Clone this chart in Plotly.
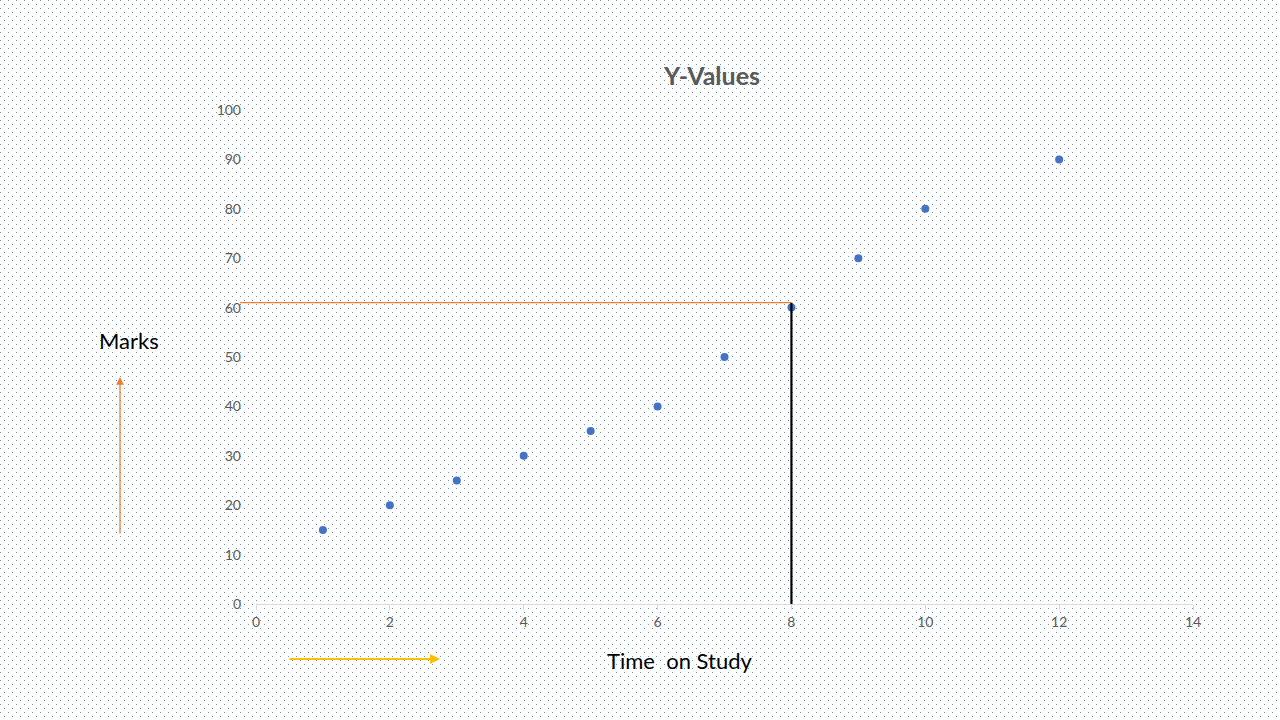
import base64
import plotly.graph_objects as go

# study time vs marks
time_on_study = [1, 2, 3, 4, 5, 6, 7, 8, 9, 10, 12]
marks = [15, 20, 25, 30, 35, 40, 50, 60, 70, 80, 90]

# reading marker (drop lines)
ref_x = 8
ref_y = 61

x_range = [0, 14]
y_range = [0, 100]
x_ticks = [0, 2, 4, 6, 8, 10, 12, 14]
y_ticks = [0, 10, 20, 30, 40, 50, 60, 70, 80, 90, 100]

W, H = 1280, 720
ML, MR, MT, MB = 256, 87, 110, 116
pw = W - ML - MR
ph = H - MT - MB

# dotted slide background as an svg pattern
svg = (
    f'<svg xmlns="http://www.w3.org/2000/svg" width="{W}" height="{H}">'
    '<defs><pattern id="p" width="8" height="8" patternUnits="userSpaceOnUse">'
    '<rect x="0" y="0" width="1" height="1" fill="#6f95c8"/>'
    '<rect x="4" y="4" width="1" height="1" fill="#6f95c8"/>'
    '</pattern></defs>'
    f'<rect width="{W}" height="{H}" fill="white"/>'
    f'<rect width="{W}" height="{H}" fill="url(#p)"/></svg>'
)
bg = "data:image/svg+xml;base64," + base64.b64encode(svg.encode()).decode()

fig = go.Figure()
fig.add_trace(go.Scatter(
    x=time_on_study, y=marks, mode="markers",
    marker=dict(color="#4472C4", size=8),
    showlegend=False, cliponaxis=False,
))

# drop lines to the point
fig.add_shape(type="line", xref="paper", yref="paper",
              x0=-16 / pw, x1=(ref_x - x_range[0]) / (x_range[1] - x_range[0]),
              y0=ref_y / y_range[1], y1=ref_y / y_range[1],
              line=dict(color="#ED7D31", width=1.2))
fig.add_shape(type="line", xref="x", yref="y", x0=ref_x, x1=ref_x, y0=0, y1=ref_y,
              line=dict(color="black", width=2.2))

fig.add_annotation(text="Marks", xref="paper", yref="paper",
                   xanchor="center", yanchor="middle",
                   x=(129 - ML) / pw, y=(H - MB - 340) / ph, showarrow=False,
                   font=dict(size=22, color="black"))
fig.add_annotation(text="Time  on Study", xref="paper", yref="paper",
                   xanchor="center", yanchor="middle",
                   x=(679 - ML) / pw, y=(H - MB - 660) / ph, showarrow=False,
                   font=dict(size=22, color="black"))

# arrows next to the labels
fig.add_annotation(text="", xref="paper", yref="paper",
                   x=(120 - ML) / pw, y=(H - MB - 377) / ph, ax=0, ay=158,
                   showarrow=True, arrowhead=2, arrowsize=1.2, arrowwidth=1.3,
                   arrowcolor="#ED7D31")
fig.add_annotation(text="", xref="paper", yref="paper",
                   x=(440 - ML) / pw, y=(H - MB - 659) / ph, ax=-152, ay=0,
                   showarrow=True, arrowhead=2, arrowsize=1, arrowwidth=2,
                   arrowcolor="#FFC000")

fig.add_layout_image(dict(
    source=bg, xref="paper", yref="paper",
    x=-ML / pw, y=(H - MB) / ph, sizex=W / pw, sizey=H / ph,
    sizing="stretch", xanchor="left", yanchor="top", layer="below",
))

fig.update_layout(
    width=W, height=H,
    margin=dict(l=ML, r=MR, t=MT, b=MB),
    paper_bgcolor="white", plot_bgcolor="rgba(0,0,0,0)",
    font=dict(family="Lato", color="#595959"),
    title=dict(text="<b>Y-Values</b>", x=712 / W, xanchor="center",
               y=1 - 76 / H, yanchor="middle",
               font=dict(size=25, color="#595959")),
)
fig.update_xaxes(range=x_range, tickvals=x_ticks, showgrid=False, zeroline=False,
                 showline=True, linecolor="#d9d9d9", linewidth=1,
                 ticks="outside", ticklen=5, tickcolor="#d9d9d9",
                 tickfont=dict(size=14, color="#595959"))
fig.update_yaxes(range=y_range, tickvals=y_ticks, showgrid=False, zeroline=False,
                 showline=False, ticks="", ticklabelstandoff=14,
                 tickfont=dict(size=14, color="#595959"))

fig.write_html("out.html", config={"displayModeBar": False},
               post_script="document.body.style.margin='0';")
